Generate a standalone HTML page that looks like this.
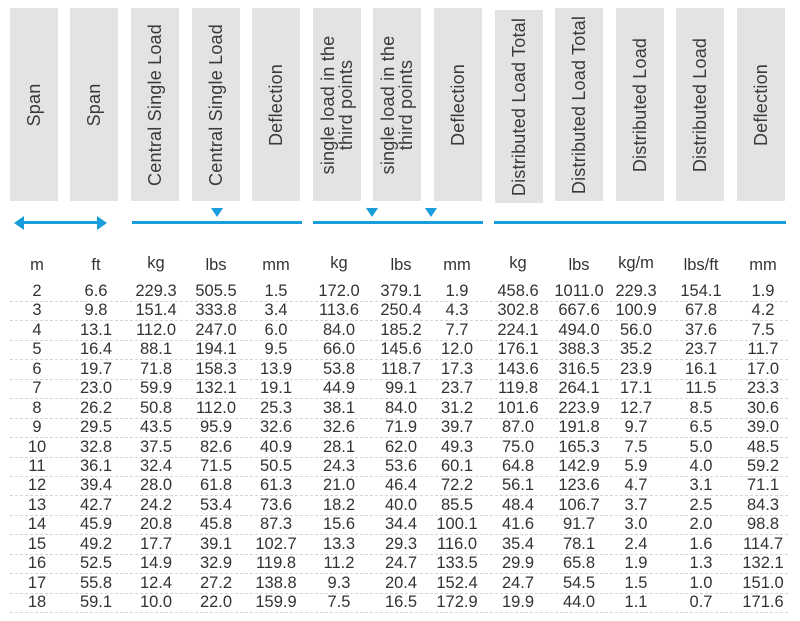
<!DOCTYPE html>
<html><head><meta charset="utf-8"><style>
body{margin:0;width:800px;height:621px;background:#fff;position:relative;overflow:hidden;font-family:"Liberation Sans",sans-serif;}
.box{position:absolute;top:8px;width:48px;height:193px;background:#e3e3e3;}
.box span{position:absolute;left:50%;top:50%;transform:translate(-50%,-50%) rotate(-90deg);white-space:nowrap;font-size:18px;letter-spacing:0.2px;color:#3a3a3a;text-align:center;line-height:18px;}
.ln{position:absolute;top:221px;height:3px;background:#1a9ddb;}
.tri{position:absolute;top:208px;width:0;height:0;border-left:6px solid transparent;border-right:6px solid transparent;border-top:9px solid #1a9ddb;}
.c{position:absolute;width:70px;margin-left:-35px;text-align:center;font-size:16.5px;color:#333;}
.dash{position:absolute;left:10px;width:778px;border-top:1px dashed #d5d5d5;}
</style></head><body>
<div class="box" style="left:10px"><span>Span</span></div>
<div class="box" style="left:70px"><span>Span</span></div>
<div class="box" style="left:131px"><span>Central Single Load</span></div>
<div class="box" style="left:192px"><span>Central Single Load</span></div>
<div class="box" style="left:252px"><span>Deflection</span></div>
<div class="box" style="left:313px"><span>single load in the<br>third points</span></div>
<div class="box" style="left:373px"><span>single load in the<br>third points</span></div>
<div class="box" style="left:434px"><span>Deflection</span></div>
<div class="box" style="left:495px;top:10px"><span>Distributed Load Total</span></div>
<div class="box" style="left:555px"><span>Distributed Load Total</span></div>
<div class="box" style="left:616px"><span>Distributed Load</span></div>
<div class="box" style="left:676px"><span>Distributed Load</span></div>
<div class="box" style="left:737px"><span>Deflection</span></div>

<div class="ln" style="left:20px;width:82px"></div>
<div style="position:absolute;left:14px;top:216px;border-top:7px solid transparent;border-bottom:7px solid transparent;border-right:10px solid #1a9ddb"></div>
<div style="position:absolute;left:97px;top:216px;border-top:7px solid transparent;border-bottom:7px solid transparent;border-left:10px solid #1a9ddb"></div>
<div class="ln" style="left:132px;width:170px"></div>
<div class="tri" style="left:211px"></div>
<div class="ln" style="left:313px;width:170px"></div>
<div class="tri" style="left:366px"></div>
<div class="tri" style="left:425px"></div>
<div class="ln" style="left:494px;width:292px"></div>

<div id="t"></div>
<script>
var cx=[37,96,156,216,276,339,401,457,518,579,636,701,763];
var hd=["m","ft","kg","lbs","mm","kg","lbs","mm","kg","lbs","kg/m","lbs/ft","mm"];
var d=[
"2 6.6 229.3 505.5 1.5 172.0 379.1 1.9 458.6 1011.0 229.3 154.1 1.9",
"3 9.8 151.4 333.8 3.4 113.6 250.4 4.3 302.8 667.6 100.9 67.8 4.2",
"4 13.1 112.0 247.0 6.0 84.0 185.2 7.7 224.1 494.0 56.0 37.6 7.5",
"5 16.4 88.1 194.1 9.5 66.0 145.6 12.0 176.1 388.3 35.2 23.7 11.7",
"6 19.7 71.8 158.3 13.9 53.8 118.7 17.3 143.6 316.5 23.9 16.1 17.0",
"7 23.0 59.9 132.1 19.1 44.9 99.1 23.7 119.8 264.1 17.1 11.5 23.3",
"8 26.2 50.8 112.0 25.3 38.1 84.0 31.2 101.6 223.9 12.7 8.5 30.6",
"9 29.5 43.5 95.9 32.6 32.6 71.9 39.7 87.0 191.8 9.7 6.5 39.0",
"10 32.8 37.5 82.6 40.9 28.1 62.0 49.3 75.0 165.3 7.5 5.0 48.5",
"11 36.1 32.4 71.5 50.5 24.3 53.6 60.1 64.8 142.9 5.9 4.0 59.2",
"12 39.4 28.0 61.8 61.3 21.0 46.4 72.2 56.1 123.6 4.7 3.1 71.1",
"13 42.7 24.2 53.4 73.6 18.2 40.0 85.5 48.4 106.7 3.7 2.5 84.3",
"14 45.9 20.8 45.8 87.3 15.6 34.4 100.1 41.6 91.7 3.0 2.0 98.8",
"15 49.2 17.7 39.1 102.7 13.3 29.3 116.0 35.4 78.1 2.4 1.6 114.7",
"16 52.5 14.9 32.9 119.8 11.2 24.7 133.5 29.9 65.8 1.9 1.3 132.1",
"17 55.8 12.4 27.2 138.8 9.3 20.4 152.4 24.7 54.5 1.5 1.0 151.0",
"18 59.1 10.0 22.0 159.9 7.5 16.5 172.9 19.9 44.0 1.1 0.7 171.6"];
var h="";
for(var i=0;i<13;i++)h+='<div class="c" style="left:'+cx[i]+'px;top:'+(i==2||i==5||i==8||i==10?254:256)+'px">'+hd[i]+'</div>';
for(var r=0;r<d.length;r++){var y=291+r*19.44;var v=d[r].split(" ");
for(var i=0;i<13;i++)h+='<div class="c" style="left:'+cx[i]+'px;top:'+(y-9).toFixed(1)+'px">'+v[i]+'</div>';
h+='<div class="dash" style="top:'+(y+10).toFixed(1)+'px"></div>';}
document.getElementById("t").innerHTML=h;
</script>
</body></html>
